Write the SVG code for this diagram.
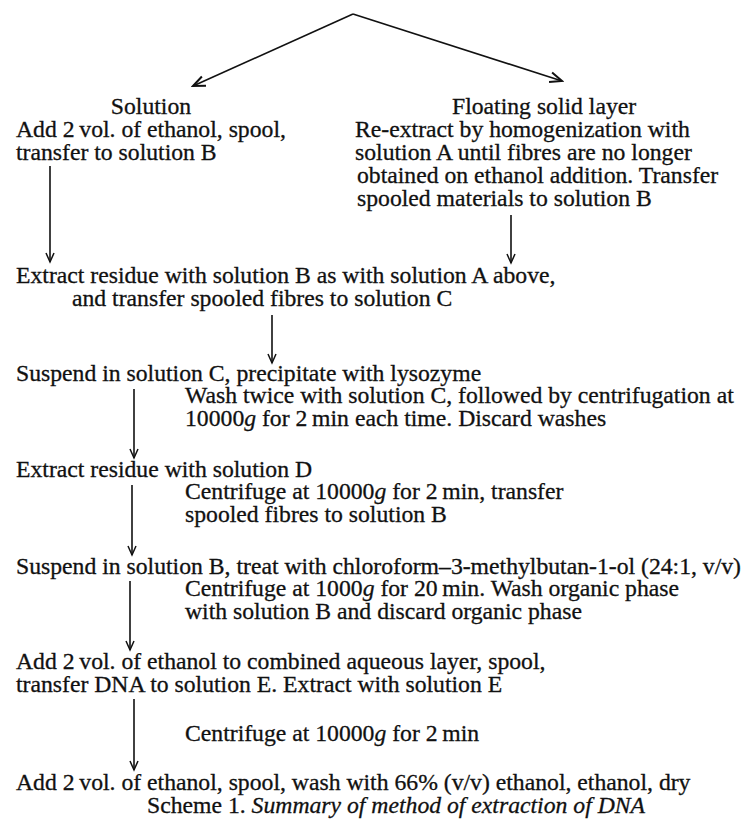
<svg xmlns="http://www.w3.org/2000/svg" width="746" height="823" viewBox="0 0 746 823" font-family="'Liberation Serif','Times New Roman',Times,serif">
<style>
text{font-family:"Liberation Serif","Times New Roman",Times,serif;font-size:23.7px;fill:#111;stroke:#111;stroke-width:0.3px;}
.i{font-style:italic;}
.c{stroke:#111;stroke-width:1.6;fill:none;}
</style>
<defs>
<marker id="ah" viewBox="-10 -6 12 12" markerWidth="12" markerHeight="12" refX="0" refY="0" orient="auto" markerUnits="userSpaceOnUse">
<path d="M-9,-4 L0,0 L-9,4" fill="none" stroke="#111" stroke-width="1.5"/>
</marker>
<marker id="ahb" viewBox="-14 -8 16 16" markerWidth="16" markerHeight="16" refX="0" refY="0" orient="auto" markerUnits="userSpaceOnUse">
<path d="M-12,-5 L0,0 L-12,5" fill="none" stroke="#111" stroke-width="2"/>
</marker>
</defs>
<g id="connectors">
<path class="c" d="M353,14 L193,86" marker-end="url(#ahb)"/>
<path class="c" d="M353,14 L562,81" marker-end="url(#ahb)"/>
<path class="c" d="M50,166 L50,262" marker-end="url(#ah)"/>
<path class="c" d="M511,215 L511,263" marker-end="url(#ah)"/>
<path class="c" d="M272,315 L272,363" marker-end="url(#ah)"/>
<path class="c" d="M134,389 L134,458" marker-end="url(#ah)"/>
<path class="c" d="M132,485 L132,555" marker-end="url(#ah)"/>
<path class="c" d="M130,581 L130,650" marker-end="url(#ah)"/>
<path class="c" d="M134,699 L134,770" marker-end="url(#ah)"/>
</g>
<g id="solution">
<text x="151" y="114" text-anchor="middle">Solution</text>
<text x="16" y="137">Add 2&#8201;vol. of ethanol, spool,</text>
<text x="16" y="160">transfer to solution B</text>
</g>
<g id="floating">
<text x="452" y="114">Floating solid layer</text>
<text x="355" y="137">Re-extract by homogenization with</text>
<text x="355" y="160">solution A until fibres are no longer</text>
<text x="357" y="183">obtained on ethanol addition. Transfer</text>
<text x="357" y="206">spooled materials to solution B</text>
</g>
<g id="step1">
<text x="16" y="283">Extract residue with solution B as with solution A above,</text>
<text x="72" y="306">and transfer spooled fibres to solution C</text>
</g>
<g id="step2">
<text x="16" y="381">Suspend in solution C, precipitate with lysozyme</text>
</g>
<g id="note2">
<text x="185" y="403">Wash twice with solution C, followed by centrifugation at</text>
<text x="185" y="426">10000<tspan class="i">g</tspan> for 2&#8201;min each time. Discard washes</text>
</g>
<g id="step3">
<text x="16" y="477">Extract residue with solution D</text>
</g>
<g id="note3">
<text x="185" y="499">Centrifuge at 10000<tspan class="i">g</tspan> for 2&#8201;min, transfer</text>
<text x="185" y="522">spooled fibres to solution B</text>
</g>
<g id="step4">
<text x="16" y="574">Suspend in solution B, treat with chloroform–3-methylbutan-1-ol (24:1, v/v)</text>
</g>
<g id="note4">
<text x="185" y="596">Centrifuge at 1000<tspan class="i">g</tspan> for 20&#8201;min. Wash organic phase</text>
<text x="185" y="619">with solution B and discard organic phase</text>
</g>
<g id="step5">
<text x="16" y="669">Add 2&#8201;vol. of ethanol to combined aqueous layer, spool,</text>
<text x="16" y="692">transfer DNA to solution E. Extract with solution E</text>
</g>
<g id="note5">
<text x="185" y="741">Centrifuge at 10000<tspan class="i">g</tspan> for 2&#8201;min</text>
</g>
<g id="step6">
<text x="16" y="790">Add 2&#8201;vol. of ethanol, spool, wash with 66% (v/v) ethanol, ethanol, dry</text>
</g>
<g id="caption">
<text x="147" y="813">Scheme 1. <tspan class="i">Summary of method of extraction of DNA</tspan></text>
</g>
</svg>
